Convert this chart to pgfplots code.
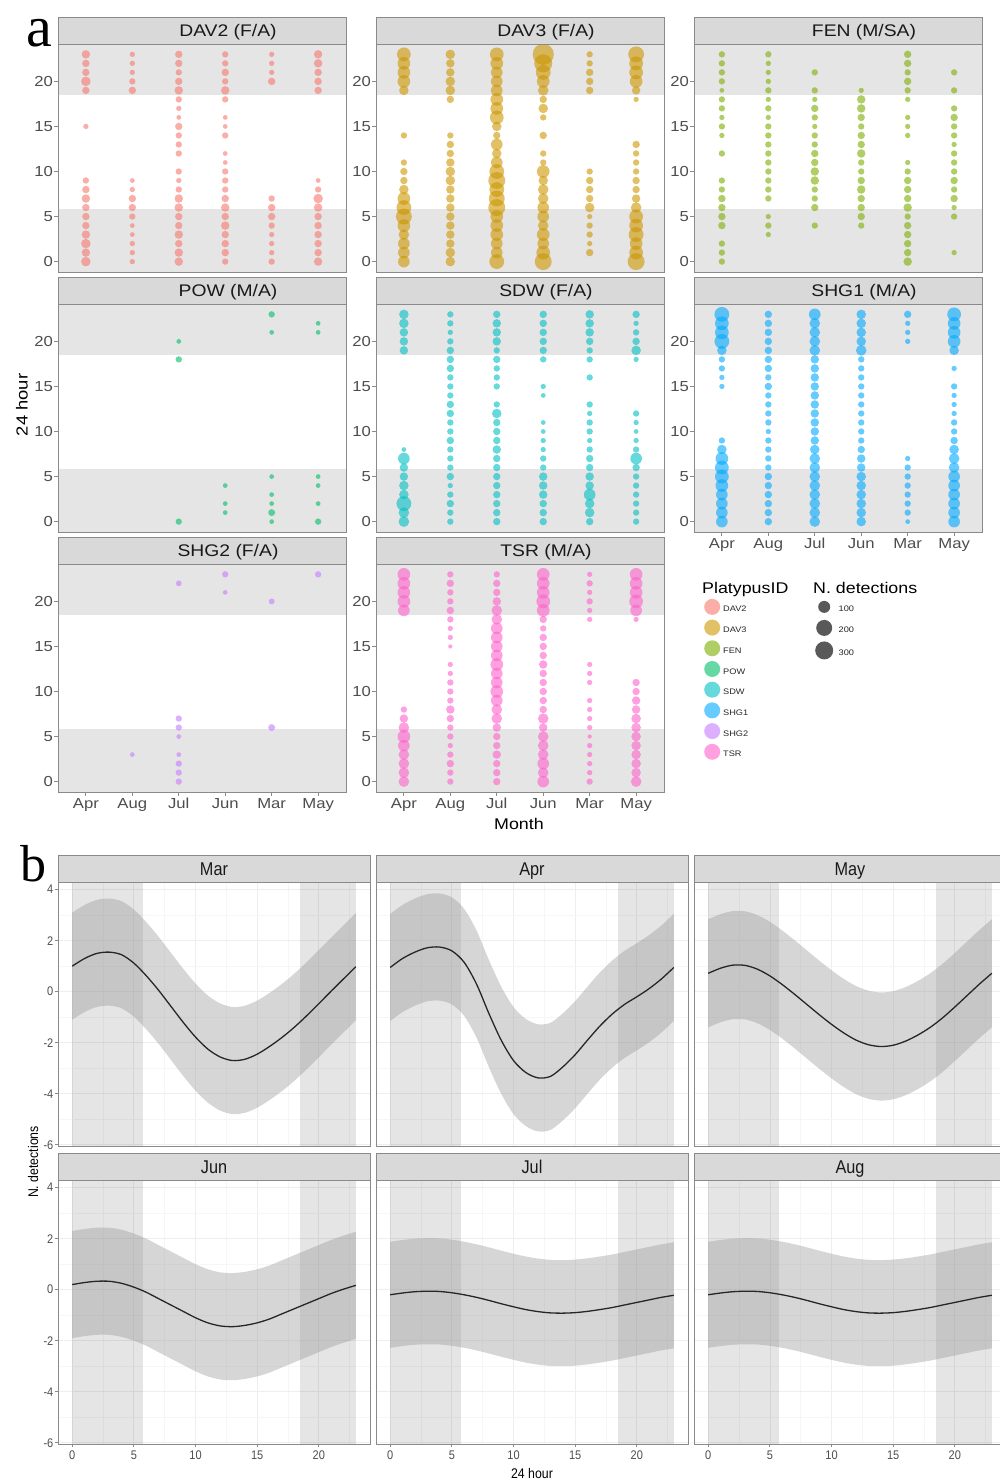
\documentclass[border=0pt]{standalone}
\usepackage{fontspec}
\setmainfont{Liberation Sans}
\newfontfamily\afont[FakeStretch=1.15]{Liberation Sans}
\newfontfamily\bfont[FakeStretch=0.88]{Liberation Sans}
\newfontfamily\letterfont{Liberation Serif}
\usepackage{pgfplots}
\usepackage{pgfplotstable}
\pgfplotsset{compat=1.18}

\definecolor{cDAV2}{HTML}{F8766D}
\definecolor{cDAV3}{HTML}{CD9600}
\definecolor{cFEN}{HTML}{7CAE00}
\definecolor{cPOW}{HTML}{00BE67}
\definecolor{cSDW}{HTML}{00BFC4}
\definecolor{cSHG1}{HTML}{00A9FF}
\definecolor{cSHG2}{HTML}{C77CFF}
\definecolor{cTSR}{HTML}{FF61CC}
\definecolor{bandgrey}{HTML}{E5E5E5}
\definecolor{stripgrey}{HTML}{D9D9D9}
\definecolor{framegrey}{HTML}{8A8A8A}
\definecolor{ribbongrey}{HTML}{999999}
\definecolor{labgrey}{HTML}{4D4D4D}
\definecolor{curvecol}{HTML}{262626}

% ---- panel a: detections per hour (m: 1=Apr 2=Aug 3=Jul 4=Jun 5=Mar 6=May, h: hour, d: dot diameter) ----
\pgfplotstableread[row sep=\\]{
m h d\\
1 23 8\\ 1 22 7\\ 1 21 7\\ 1 20 9\\ 1 19 7\\ 1 15 5\\ 1 9 6\\ 1 8 7\\ 1 7 8\\ 1 6 7\\ 1 5 7\\ 1 4 7\\ 1 3 8\\ 1 2 9\\ 1 1 8\\ 1 0 9\\
2 23 5\\ 2 22 5\\ 2 21 5\\ 2 20 6\\ 2 19 7\\ 2 9 4.5\\ 2 8 5\\ 2 7 7\\ 2 6 7\\ 2 5 6\\ 2 4 4.5\\ 2 3 4.5\\ 2 2 5\\ 2 1 5\\ 2 0 5\\
3 23 7\\ 3 22 7\\ 3 21 6\\ 3 20 7\\ 3 19 8\\ 3 18 6\\ 3 17 5\\ 3 16 4.5\\ 3 15 7\\ 3 14 6\\ 3 13 6\\ 3 12 6\\ 3 10 6\\ 3 9 5\\ 3 8 6\\ 3 7 8\\ 3 6 8\\ 3 5 7\\ 3 4 7\\ 3 3 8\\ 3 2 7\\ 3 1 8\\ 3 0 8\\
4 23 6\\ 4 22 6\\ 4 21 7\\ 4 20 6\\ 4 19 8\\ 4 18 6\\ 4 16 4.5\\ 4 15 4.5\\ 4 14 6\\ 4 12 4.5\\ 4 11 4.5\\ 4 10 6\\ 4 9 6\\ 4 8 6\\ 4 7 7\\ 4 6 8\\ 4 5 7\\ 4 4 8\\ 4 3 7\\ 4 2 7\\ 4 1 7\\ 4 0 6\\
5 23 5\\ 5 22 5\\ 5 21 5\\ 5 20 7\\ 5 7 6\\ 5 6 7\\ 5 5 7\\ 5 4 6\\ 5 3 5\\ 5 2 5\\ 5 1 5\\ 5 0 6\\
6 23 8\\ 6 22 8\\ 6 21 7\\ 6 20 7\\ 6 19 7\\ 6 9 4.5\\ 6 8 6\\ 6 7 9\\ 6 6 8\\ 6 5 7\\ 6 4 7\\ 6 3 7\\ 6 2 7\\ 6 1 7\\ 6 0 8\\
}\tDAVii

\pgfplotstableread[row sep=\\]{
m h d\\
1 23 13\\ 1 22 12\\ 1 21 12\\ 1 20 12\\ 1 19 9\\ 1 14 6\\ 1 11 6\\ 1 10 7\\ 1 9 7\\ 1 8 9\\ 1 7 12\\ 1 6 14\\ 1 5 15\\ 1 4 12\\ 1 3 10\\ 1 2 11\\ 1 1 11\\ 1 0 11\\
2 23 9\\ 2 22 8\\ 2 21 8\\ 2 20 9\\ 2 19 9\\ 2 18 7\\ 2 14 6\\ 2 13 7\\ 2 12 7\\ 2 11 8\\ 2 10 9\\ 2 9 9\\ 2 8 8\\ 2 7 8\\ 2 6 8\\ 2 5 8\\ 2 4 8\\ 2 3 8\\ 2 2 8\\ 2 1 9\\ 2 0 9\\
3 23 13\\ 3 22 12\\ 3 21 11\\ 3 20 11\\ 3 19 11\\ 3 18 12\\ 3 17 12\\ 3 16 13\\ 3 15 9\\ 3 14 7\\ 3 13 11\\ 3 12 9\\ 3 11 11\\ 3 10 14\\ 3 9 16\\ 3 8 14\\ 3 7 15\\ 3 6 16\\ 3 5 12\\ 3 4 12\\ 3 3 12\\ 3 2 11\\ 3 1 11\\ 3 0 14\\
4 23 20\\ 4 22 17\\ 4 21 14\\ 4 20 12\\ 4 19 10\\ 4 18 7\\ 4 17 9\\ 4 16 6\\ 4 14 7\\ 4 12 6\\ 4 11 6\\ 4 10 12\\ 4 9 9\\ 4 8 10\\ 4 7 10\\ 4 6 11\\ 4 5 11\\ 4 4 10\\ 4 3 12\\ 4 2 11\\ 4 1 13\\ 4 0 16\\
5 23 6\\ 5 22 6\\ 5 21 7\\ 5 20 7\\ 5 19 7\\ 5 10 6\\ 5 9 7\\ 5 8 7\\ 5 7 7\\ 5 6 9\\ 5 5 5\\ 5 4 6\\ 5 3 6\\ 5 2 5\\ 5 1 7\\
6 23 15\\ 6 22 13\\ 6 21 13\\ 6 20 12\\ 6 19 8\\ 6 18 5\\ 6 13 7\\ 6 12 6\\ 6 11 6\\ 6 10 6\\ 6 9 7\\ 6 8 7\\ 6 7 8\\ 6 6 10\\ 6 5 13\\ 6 4 13\\ 6 3 14\\ 6 2 12\\ 6 1 13\\ 6 0 16\\
}\tDAViii

\pgfplotstableread[row sep=\\]{
m h d\\
1 23 6\\ 1 22 6\\ 1 21 6\\ 1 20 6\\ 1 19 4.5\\ 1 18 6\\ 1 17 6\\ 1 16 5\\ 1 15 6\\ 1 14 5\\ 1 12 6\\ 1 9 6\\ 1 8 6\\ 1 7 7\\ 1 6 7\\ 1 5 7\\ 1 4 7\\ 1 2 6\\ 1 1 6\\ 1 0 6\\
2 23 6\\ 2 22 5\\ 2 21 5\\ 2 20 5\\ 2 19 6\\ 2 18 5\\ 2 17 6\\ 2 16 5\\ 2 15 6\\ 2 14 6\\ 2 13 6\\ 2 12 6\\ 2 11 6\\ 2 10 6\\ 2 9 6\\ 2 8 6\\ 2 7 6\\ 2 5 5\\ 2 4 6\\ 2 3 5\\
3 21 6\\ 3 19 6\\ 3 18 5\\ 3 17 7\\ 3 16 6\\ 3 15 5\\ 3 14 6\\ 3 13 6\\ 3 12 7\\ 3 11 7\\ 3 10 8\\ 3 9 8\\ 3 8 6\\ 3 7 6\\ 3 6 7\\ 3 4 6\\
4 19 5\\ 4 18 8\\ 4 17 8\\ 4 16 7\\ 4 15 6\\ 4 14 7\\ 4 13 7\\ 4 12 8\\ 4 11 6\\ 4 10 6\\ 4 9 7\\ 4 8 8\\ 4 7 7\\ 4 6 7\\ 4 5 7\\ 4 4 6\\
5 23 7\\ 5 22 7\\ 5 21 6\\ 5 20 7\\ 5 19 6\\ 5 18 5\\ 5 16 5\\ 5 15 5\\ 5 14 5\\ 5 11 5\\ 5 10 6\\ 5 9 7\\ 5 8 7\\ 5 7 7\\ 5 6 8\\ 5 5 6\\ 5 4 7\\ 5 3 7\\ 5 2 7\\ 5 1 7\\ 5 0 8\\
6 21 6\\ 6 19 6\\ 6 17 6\\ 6 16 7\\ 6 15 6\\ 6 14 6\\ 6 13 5\\ 6 12 6\\ 6 11 6\\ 6 10 6\\ 6 9 7\\ 6 8 6\\ 6 7 7\\ 6 6 5\\ 6 5 6\\ 6 1 5\\
}\tFEN

\pgfplotstableread[row sep=\\]{
m h d\\
3 20 4.5\\ 3 18 6\\ 3 0 6\\
4 4 4.5\\ 4 2 4.5\\ 4 1 4.5\\
5 23 6\\ 5 21 4.5\\ 5 5 4.5\\ 5 3 4.5\\ 5 2 4.5\\ 5 1 6.5\\ 5 0 4.5\\
6 22 4.5\\ 6 21 4.5\\ 6 5 4.5\\ 6 4 4.5\\ 6 2 4.5\\ 6 0 6\\
}\tPOW

\pgfplotstableread[row sep=\\]{
m h d\\
1 23 9\\ 1 22 9\\ 1 21 8\\ 1 20 8\\ 1 19 8\\ 1 8 4.5\\ 1 7 11\\ 1 6 8\\ 1 5 8\\ 1 4 9\\ 1 3 9\\ 1 2 14\\ 1 1 10\\ 1 0 10\\
2 23 6\\ 2 22 6\\ 2 21 5\\ 2 20 6\\ 2 19 7\\ 2 18 7\\ 2 17 7\\ 2 16 6\\ 2 15 6\\ 2 14 6\\ 2 13 7\\ 2 12 7\\ 2 11 6\\ 2 10 6\\ 2 9 7\\ 2 8 6\\ 2 7 6\\ 2 6 6\\ 2 5 7\\ 2 4 5\\ 2 3 6\\ 2 2 7\\ 2 1 6\\ 2 0 6\\
3 23 7\\ 3 22 8\\ 3 21 8\\ 3 20 8\\ 3 19 6\\ 3 18 7\\ 3 17 6\\ 3 16 6\\ 3 15 6\\ 3 13 6\\ 3 12 9\\ 3 11 7\\ 3 10 7\\ 3 9 7\\ 3 8 8\\ 3 7 7\\ 3 6 7\\ 3 5 7\\ 3 4 7\\ 3 3 7\\ 3 2 7\\ 3 1 7\\ 3 0 7\\
4 23 7\\ 4 22 7\\ 4 21 7\\ 4 20 7\\ 4 19 7\\ 4 18 6\\ 4 15 5\\ 4 14 4.5\\ 4 11 4.5\\ 4 10 4.5\\ 4 9 5\\ 4 8 5\\ 4 7 6\\ 4 6 6\\ 4 5 8\\ 4 4 8\\ 4 3 8\\ 4 2 7\\ 4 1 7\\ 4 0 7\\
5 23 8\\ 5 22 8\\ 5 21 8\\ 5 20 7\\ 5 19 6\\ 5 18 6\\ 5 16 6\\ 5 13 6\\ 5 12 5\\ 5 11 6\\ 5 10 6\\ 5 9 5\\ 5 8 6\\ 5 7 7\\ 5 6 7\\ 5 5 8\\ 5 4 8\\ 5 3 11\\ 5 2 9\\ 5 1 9\\ 5 0 7\\
6 23 7\\ 6 22 5\\ 6 21 6\\ 6 20 7\\ 6 19 9\\ 6 18 5\\ 6 12 6\\ 6 11 5\\ 6 10 4.5\\ 6 9 5\\ 6 8 6\\ 6 7 11\\ 6 6 7\\ 6 5 6\\ 6 4 6\\ 6 3 6\\ 6 2 6\\ 6 1 6\\ 6 0 6\\
}\tSDW

\pgfplotstableread[row sep=\\]{
m h d\\
1 23 14\\ 1 22 13\\ 1 21 13\\ 1 20 14\\ 1 19 9\\ 1 18 6\\ 1 17 6\\ 1 16 5\\ 1 15 5\\ 1 9 6\\ 1 8 9\\ 1 7 12\\ 1 6 13\\ 1 5 13\\ 1 4 12\\ 1 3 11\\ 1 2 11\\ 1 1 11\\ 1 0 11\\
2 23 7\\ 2 22 7\\ 2 21 7\\ 2 20 7\\ 2 19 7\\ 2 18 7\\ 2 17 7\\ 2 16 6\\ 2 15 7\\ 2 14 6\\ 2 13 6\\ 2 12 6\\ 2 11 6\\ 2 10 5\\ 2 9 6\\ 2 8 6\\ 2 7 6\\ 2 6 6\\ 2 5 7\\ 2 4 7\\ 2 3 7\\ 2 2 7\\ 2 1 7\\ 2 0 7\\
3 23 11\\ 3 22 10\\ 3 21 10\\ 3 20 10\\ 3 19 10\\ 3 18 8\\ 3 17 8\\ 3 16 8\\ 3 15 8\\ 3 14 8\\ 3 13 8\\ 3 12 8\\ 3 11 8\\ 3 10 8\\ 3 9 8\\ 3 8 9\\ 3 7 10\\ 3 6 10\\ 3 5 10\\ 3 4 10\\ 3 3 10\\ 3 2 10\\ 3 1 10\\ 3 0 10\\
4 23 9\\ 4 22 9\\ 4 21 9\\ 4 20 9\\ 4 19 10\\ 4 18 6\\ 4 17 6\\ 4 16 6\\ 4 15 6\\ 4 14 6\\ 4 13 6\\ 4 12 6\\ 4 11 6\\ 4 10 6\\ 4 9 6\\ 4 8 7\\ 4 7 8\\ 4 6 8\\ 4 5 9\\ 4 4 9\\ 4 3 9\\ 4 2 9\\ 4 1 9\\ 4 0 9\\
5 23 7\\ 5 22 5\\ 5 21 5\\ 5 20 5\\ 5 7 5\\ 5 6 6\\ 5 5 6\\ 5 4 6\\ 5 3 6\\ 5 2 6\\ 5 1 6\\ 5 0 4.5\\
6 23 13\\ 6 22 12\\ 6 21 12\\ 6 20 12\\ 6 19 9\\ 6 17 5\\ 6 15 6\\ 6 14 5\\ 6 13 5\\ 6 12 5\\ 6 11 6\\ 6 10 6\\ 6 9 7\\ 6 8 9\\ 6 7 10\\ 6 6 10\\ 6 5 11\\ 6 4 11\\ 6 3 11\\ 6 2 11\\ 6 1 11\\ 6 0 11\\
}\tSHGi

\pgfplotstableread[row sep=\\]{
m h d\\
2 3 4.5\\
3 22 5.5\\ 3 7 6\\ 3 6 6\\ 3 5 4.5\\ 3 3 4.5\\ 3 2 6\\ 3 1 6\\ 3 0 6\\
4 23 6\\ 4 21 4.5\\
5 20 5.5\\ 5 6 6.5\\
6 23 6\\
}\tSHGii

\pgfplotstableread[row sep=\\]{
m h d\\
1 23 12\\ 1 22 12\\ 1 21 12\\ 1 20 12\\ 1 19 11\\ 1 8 6\\ 1 7 8\\ 1 6 10\\ 1 5 12\\ 1 4 11\\ 1 3 10\\ 1 2 10\\ 1 1 10\\ 1 0 10\\
2 23 6\\ 2 22 7\\ 2 21 6\\ 2 20 6\\ 2 19 7\\ 2 18 6\\ 2 17 5\\ 2 16 5\\ 2 15 4\\ 2 13 5\\ 2 12 5\\ 2 11 6\\ 2 10 6\\ 2 9 6\\ 2 8 8\\ 2 7 7\\ 2 6 6\\ 2 5 6\\ 2 4 5\\ 2 3 6\\ 2 2 7\\ 2 1 6\\ 2 0 6\\
3 23 6\\ 3 22 7\\ 3 21 7\\ 3 20 8\\ 3 19 10\\ 3 18 10\\ 3 17 11\\ 3 16 11\\ 3 15 11\\ 3 14 11\\ 3 13 12\\ 3 12 11\\ 3 11 11\\ 3 10 12\\ 3 9 11\\ 3 8 10\\ 3 7 10\\ 3 6 8\\ 3 5 7\\ 3 4 7\\ 3 3 8\\ 3 2 7\\ 3 1 7\\ 3 0 7\\
4 23 12\\ 4 22 12\\ 4 21 12\\ 4 20 13\\ 4 19 12\\ 4 18 7\\ 4 17 6\\ 4 16 7\\ 4 15 7\\ 4 14 7\\ 4 13 8\\ 4 12 7\\ 4 11 7\\ 4 10 7\\ 4 9 7\\ 4 8 7\\ 4 7 10\\ 4 6 8\\ 4 5 10\\ 4 4 10\\ 4 3 10\\ 4 2 11\\ 4 1 10\\ 4 0 11\\
5 23 5\\ 5 22 6\\ 5 21 5\\ 5 20 6\\ 5 19 5\\ 5 18 5\\ 5 13 5\\ 5 12 5\\ 5 11 5\\ 5 9 5\\ 5 8 5\\ 5 7 5\\ 5 6 5\\ 5 5 4\\ 5 4 5\\ 5 3 5\\ 5 2 5\\ 5 1 5\\ 5 0 6\\
6 23 12\\ 6 22 12\\ 6 21 12\\ 6 20 13\\ 6 19 11\\ 6 18 5\\ 6 11 7\\ 6 10 7\\ 6 9 8\\ 6 8 8\\ 6 7 9\\ 6 6 9\\ 6 5 9\\ 6 4 9\\ 6 3 9\\ 6 2 9\\ 6 1 9\\ 6 0 10\\
}\tTSR

% ---- panel b: fitted curve and its band per month (w = hi - lo) ----
\pgfplotstableread{
h fit lo hi w
0 1.00 -1.10 3.10 4.2
1 1.30 -0.80 3.40 4.2
2 1.50 -0.60 3.60 4.2
3 1.55 -0.55 3.65 4.2
4 1.45 -0.65 3.55 4.2
5 1.12 -0.98 3.22 4.2
6 0.63 -1.47 2.73 4.2
7 0.06 -2.04 2.16 4.2
8 -0.57 -2.67 1.53 4.2
9 -1.20 -3.30 0.90 4.2
10 -1.78 -3.88 0.32 4.2
11 -2.25 -4.35 -0.15 4.2
12 -2.56 -4.66 -0.46 4.2
13 -2.70 -4.80 -0.60 4.2
14 -2.65 -4.75 -0.55 4.2
15 -2.45 -4.55 -0.35 4.2
16 -2.15 -4.25 -0.05 4.2
17 -1.80 -3.90 0.30 4.2
18 -1.40 -3.50 0.70 4.2
19 -0.95 -3.05 1.15 4.2
20 -0.47 -2.57 1.63 4.2
21 0.02 -2.08 2.12 4.2
22 0.50 -1.60 2.60 4.2
23 0.98 -1.12 3.08 4.2
}\tMar

\pgfplotstableread{
h fit lo hi w
0 0.95 -1.15 3.05 4.2
1 1.30 -0.80 3.40 4.2
2 1.55 -0.55 3.65 4.2
3 1.72 -0.38 3.82 4.2
4 1.75 -0.35 3.85 4.2
5 1.60 -0.50 3.70 4.2
6 1.15 -0.95 3.25 4.2
7 0.30 -1.80 2.40 4.2
8 -0.85 -2.95 1.25 4.2
9 -1.90 -4.00 0.20 4.2
10 -2.70 -4.80 -0.60 4.2
11 -3.17 -5.27 -1.07 4.2
12 -3.38 -5.48 -1.28 4.2
13 -3.32 -5.42 -1.22 4.2
14 -2.95 -5.05 -0.85 4.2
15 -2.47 -4.57 -0.37 4.2
16 -1.90 -4.00 0.20 4.2
17 -1.35 -3.45 0.75 4.2
18 -0.88 -2.98 1.22 4.2
19 -0.50 -2.60 1.60 4.2
20 -0.20 -2.30 1.90 4.2
21 0.12 -1.98 2.22 4.2
22 0.50 -1.60 2.60 4.2
23 0.95 -1.15 3.05 4.2
}\tApr

\pgfplotstableread{
h fit lo hi w
0 0.72 -1.40 2.84 4.24
1 0.92 -1.20 3.04 4.24
2 1.04 -1.08 3.16 4.24
3 1.03 -1.09 3.15 4.24
4 0.88 -1.24 3.00 4.24
5 0.62 -1.50 2.74 4.24
6 0.28 -1.84 2.40 4.24
7 -0.10 -2.22 2.02 4.24
8 -0.50 -2.62 1.62 4.24
9 -0.90 -3.02 1.22 4.24
10 -1.28 -3.40 0.84 4.24
11 -1.62 -3.74 0.50 4.24
12 -1.90 -4.02 0.22 4.24
13 -2.08 -4.20 0.04 4.24
14 -2.15 -4.27 -0.03 4.24
15 -2.10 -4.22 0.02 4.24
16 -1.94 -4.06 0.18 4.24
17 -1.70 -3.82 0.42 4.24
18 -1.40 -3.52 0.72 4.24
19 -1.03 -3.15 1.09 4.24
20 -0.60 -2.72 1.52 4.24
21 -0.15 -2.27 1.97 4.24
22 0.30 -1.82 2.42 4.24
23 0.72 -1.40 2.84 4.24
}\tMay

\pgfplotstableread{
h fit lo hi w
0 0.20 -1.90 2.30 4.2
1 0.28 -1.82 2.38 4.2
2 0.33 -1.77 2.43 4.2
3 0.33 -1.77 2.43 4.2
4 0.25 -1.85 2.35 4.2
5 0.10 -2.00 2.20 4.2
6 -0.10 -2.20 2.00 4.2
7 -0.35 -2.45 1.75 4.2
8 -0.60 -2.70 1.50 4.2
9 -0.85 -2.95 1.25 4.2
10 -1.10 -3.20 1.00 4.2
11 -1.30 -3.40 0.80 4.2
12 -1.42 -3.52 0.68 4.2
13 -1.45 -3.55 0.65 4.2
14 -1.40 -3.50 0.70 4.2
15 -1.30 -3.40 0.80 4.2
16 -1.15 -3.25 0.95 4.2
17 -0.95 -3.05 1.15 4.2
18 -0.75 -2.85 1.35 4.2
19 -0.55 -2.65 1.55 4.2
20 -0.35 -2.45 1.75 4.2
21 -0.15 -2.25 1.95 4.2
22 0.02 -2.08 2.12 4.2
23 0.17 -1.93 2.27 4.2
}\tJun

\pgfplotstableread{
h fit lo hi w
0 -0.20 -2.28 1.88 4.16
1 -0.13 -2.21 1.95 4.16
2 -0.08 -2.16 2.00 4.16
3 -0.06 -2.14 2.02 4.16
4 -0.07 -2.15 2.01 4.16
5 -0.12 -2.20 1.96 4.16
6 -0.20 -2.28 1.88 4.16
7 -0.30 -2.38 1.78 4.16
8 -0.42 -2.50 1.66 4.16
9 -0.55 -2.63 1.53 4.16
10 -0.67 -2.75 1.41 4.16
11 -0.78 -2.86 1.30 4.16
12 -0.86 -2.94 1.22 4.16
13 -0.91 -2.99 1.17 4.16
14 -0.92 -3.00 1.16 4.16
15 -0.90 -2.98 1.18 4.16
16 -0.85 -2.93 1.23 4.16
17 -0.78 -2.86 1.30 4.16
18 -0.70 -2.78 1.38 4.16
19 -0.60 -2.68 1.48 4.16
20 -0.50 -2.58 1.58 4.16
21 -0.40 -2.48 1.68 4.16
22 -0.30 -2.38 1.78 4.16
23 -0.22 -2.30 1.86 4.16
}\tJul

\pgfplotstableread{
h fit lo hi w
0 -0.20 -2.28 1.88 4.16
1 -0.13 -2.21 1.95 4.16
2 -0.08 -2.16 2.00 4.16
3 -0.06 -2.14 2.02 4.16
4 -0.07 -2.15 2.01 4.16
5 -0.12 -2.20 1.96 4.16
6 -0.20 -2.28 1.88 4.16
7 -0.30 -2.38 1.78 4.16
8 -0.42 -2.50 1.66 4.16
9 -0.55 -2.63 1.53 4.16
10 -0.67 -2.75 1.41 4.16
11 -0.78 -2.86 1.30 4.16
12 -0.86 -2.94 1.22 4.16
13 -0.91 -2.99 1.17 4.16
14 -0.92 -3.00 1.16 4.16
15 -0.90 -2.98 1.18 4.16
16 -0.85 -2.93 1.23 4.16
17 -0.78 -2.86 1.30 4.16
18 -0.70 -2.78 1.38 4.16
19 -0.60 -2.68 1.48 4.16
20 -0.50 -2.58 1.58 4.16
21 -0.40 -2.48 1.68 4.16
22 -0.30 -2.38 1.78 4.16
23 -0.22 -2.30 1.86 4.16
}\tAug

\pgfplotsset{
  apanel/.style={scale only axis, width=288pt, height=228pt, anchor=south west,
    xmin=0.4, xmax=6.6, ymin=-1.15, ymax=24.15,
    xtick={1,2,3,4,5,6}, xticklabels={Apr,Aug,Jul,Jun,Mar,May},
    ytick={0,5,10,15,20}, xtick pos=bottom, ytick pos=left,
    tick align=outside, major tick length=4pt,
    tick style={framegrey, line width=0.8pt},
    axis line style={draw=none},
    tick label style={font=\afont\fontsize{14.5}{15}\selectfont, text=labgrey},
    yticklabel style={inner sep=1pt}, xticklabel style={inner sep=2pt},
    /pgf/number format/assume math mode=true},
  bubble/.style={scatter, only marks, mark=*,
    scatter/use mapped color={draw opacity=0, fill=#1, fill opacity=0.6},
    visualization depends on={0.53*\thisrow{d} \as \rad},
    scatter/@pre marker code/.append style={/tikz/mark size=\rad}},
  bpanel/.style={scale only axis, width=312pt, height=264pt, anchor=south west,
    xmin=-1.15, xmax=24.15, ymin=-6.05, ymax=4.3,
    xtick={0,5,10,15,20}, ytick={-6,-4,-2,0,2,4}, yticklabels={-6,-4,-2,0,2,4},
    minor xtick={2.5,7.5,12.5,17.5,22.5}, minor ytick={-5,-3,-1,1,3},
    grid=both, major grid style={gray!13, line width=0.7pt},
    minor grid style={gray!7, line width=0.4pt},
    minor tick length=0pt, major tick length=3.5pt, tick align=outside,
    xtick pos=bottom, ytick pos=left,
    tick style={framegrey, line width=0.8pt},
    axis line style={draw=none},
    tick label style={font=\bfont\fontsize{12.5}{13}\selectfont, text=labgrey},
    yticklabel style={inner sep=1pt},
    /pgf/number format/assume math mode=true},
}

% #1 left, #2 bottom, #3 table, #4 colour, #5 title, #6 extra options
\newcommand{\apanel}[6]{%
  \begin{axis}[apanel, at={(#1pt,#2pt)}, #6]
    \fill[bandgrey] (axis cs:0.4,-1.15) rectangle (axis cs:6.6,5.8);
    \fill[bandgrey] (axis cs:0.4,18.5) rectangle (axis cs:6.6,24.15);
    \addplot[bubble=#4] table[x=m, y=h] {#3};
  \end{axis}
  \draw[framegrey, line width=0.9pt] (#1pt,#2pt) rectangle ++(288pt,228pt);
  \draw[framegrey, line width=0.9pt, fill=stripgrey] (#1pt,#2pt+228pt) rectangle ++(288pt,27pt);
  \node[anchor=base, font=\afont\fontsize{16.8}{17}\selectfont, text=black!90] at (#1pt+170pt,#2pt+235.5pt) {#5};
}

% #1 left, #2 bottom, #3 table, #4 title, #5 extra options
\newcommand{\bpanel}[5]{%
  \begin{axis}[bpanel, at={(#1pt,#2pt)}, #5]
    \fill[black, fill opacity=0.1] (axis cs:0,-6.05) rectangle (axis cs:5.75,4.3);
    \fill[black, fill opacity=0.1] (axis cs:18.5,-6.05) rectangle (axis cs:23,4.3);
    \addplot[draw=none, smooth, stack plots=y] table[x=h, y=lo] {#3};
    \addplot[draw=none, fill=ribbongrey, fill opacity=0.4, smooth, stack plots=y] table[x=h, y=w] {#3} \closedcycle;
    \addplot[color=curvecol, smooth, line width=1.3pt, stack plots=false] table[x=h, y=fit] {#3};
  \end{axis}
  \draw[framegrey, line width=0.9pt] (#1pt,#2pt) rectangle ++(312pt,264pt);
  \draw[framegrey, line width=0.9pt, fill=stripgrey] (#1pt,#2pt+264pt) rectangle ++(312pt,27pt);
  \node[anchor=base, font=\bfont\fontsize{18.5}{19}\selectfont, text=black!90] at (#1pt+156pt,#2pt+270.9pt) {#4};
}

\begin{document}
\begin{tikzpicture}
\useasboundingbox (0,0) rectangle (1000pt,1481pt);

% ---------------- a ----------------
\apanel{58}{1209}{\tDAVii}{cDAV2}{DAV2 (F/A)}{xtick=\empty}
\apanel{376}{1209}{\tDAViii}{cDAV3}{DAV3 (F/A)}{xtick=\empty}
\apanel{694}{1209}{\tFEN}{cFEN}{FEN (M/SA)}{xtick=\empty}
\apanel{58}{949}{\tPOW}{cPOW}{POW (M/A)}{xtick=\empty}
\apanel{376}{949}{\tSDW}{cSDW}{SDW (F/A)}{xtick=\empty}
\apanel{694}{949}{\tSHGi}{cSHG1}{SHG1 (M/A)}{}
\apanel{58}{689}{\tSHGii}{cSHG2}{SHG2 (F/A)}{}
\apanel{376}{689}{\tTSR}{cTSR}{TSR (M/A)}{}

\node[rotate=90, font=\afont\fontsize{16}{16}\selectfont] at (22pt,1076pt) {24 hour};
\node[font=\afont\fontsize{15.5}{16}\selectfont] at (519pt,657pt) {Month};

% legends
\node[anchor=base west, inner sep=0pt, font=\afont\fontsize{15.5}{16}\selectfont] at (702pt,887.7pt) {PlatypusID};
\node[anchor=base west, inner sep=0pt, font=\afont\fontsize{15.5}{16}\selectfont] at (813pt,887.7pt) {N. detections};
\begin{axis}[hide axis, scale only axis, width=40pt, height=40pt, anchor=south west,
  at={(704pt,842.3pt)}, xmin=0, xmax=1, ymin=0, ymax=1,
  legend cell align=left,
  legend image code/.code={\fill[#1, draw=none] (8pt,3pt) circle[radius=8pt];},
  legend style={at={(0,1)}, anchor=north west, draw=none, fill=none, inner sep=0pt,
    row sep=4.7pt, column sep=2pt, font=\afont\fontsize{8}{8}\selectfont,
    nodes={inner sep=1pt, text=black!85}}]
  \addlegendimage{fill=cDAV2, fill opacity=0.6}\addlegendentry{DAV2}
  \addlegendimage{fill=cDAV3, fill opacity=0.6}\addlegendentry{DAV3}
  \addlegendimage{fill=cFEN, fill opacity=0.6}\addlegendentry{FEN}
  \addlegendimage{fill=cPOW, fill opacity=0.6}\addlegendentry{POW}
  \addlegendimage{fill=cSDW, fill opacity=0.6}\addlegendentry{SDW}
  \addlegendimage{fill=cSHG1, fill opacity=0.6}\addlegendentry{SHG1}
  \addlegendimage{fill=cSHG2, fill opacity=0.6}\addlegendentry{SHG2}
  \addlegendimage{fill=cTSR, fill opacity=0.6}\addlegendentry{TSR}
\end{axis}
\begin{axis}[hide axis, scale only axis, width=40pt, height=40pt, anchor=south west,
  at={(815pt,840.3pt)}, xmin=0, xmax=1, ymin=0, ymax=1,
  legend cell align=left,
  legend image code/.code={\fill[#1, draw=none] (9pt,3pt) circle;},
  legend style={at={(0,1)}, anchor=north west, draw=none, fill=none, inner sep=0pt,
    row sep=5.5pt, column sep=4.5pt, font=\afont\fontsize{8}{8}\selectfont,
    nodes={inner sep=1pt, text=black!85}}]
  \addlegendimage{fill=black, fill opacity=0.65, radius=6pt}\addlegendentry{100}
  \addlegendimage{fill=black, fill opacity=0.65, radius=8pt}\addlegendentry{200}
  \addlegendimage{fill=black, fill opacity=0.65, radius=9pt}\addlegendentry{300}
\end{axis}

\node[anchor=base, inner sep=0pt, font=\letterfont\fontsize{58}{58}\selectfont] at (39pt,1434pt) {a};

% ---------------- b ----------------
\bpanel{58}{335}{\tMar}{Mar}{xticklabels={}, xtick style={draw=none}}
\bpanel{376}{335}{\tApr}{Apr}{xticklabels={}, xtick style={draw=none}, yticklabels={}, ytick style={draw=none}}
\bpanel{694}{335}{\tMay}{May}{xticklabels={}, xtick style={draw=none}, yticklabels={}, ytick style={draw=none}}
\bpanel{58}{37}{\tJun}{Jun}{}
\bpanel{376}{37}{\tJul}{Jul}{yticklabels={}, ytick style={draw=none}}
\bpanel{694}{37}{\tAug}{Aug}{yticklabels={}, ytick style={draw=none}}

\node[rotate=90, font=\bfont\fontsize{14}{14}\selectfont] at (33pt,319pt) {N. detections};
\node[font=\bfont\fontsize{14}{14}\selectfont] at (532pt,8pt) {24 hour};
\node[anchor=base, inner sep=0pt, font=\letterfont\fontsize{52}{52}\selectfont] at (33pt,599pt) {b};
\end{tikzpicture}
\end{document}
